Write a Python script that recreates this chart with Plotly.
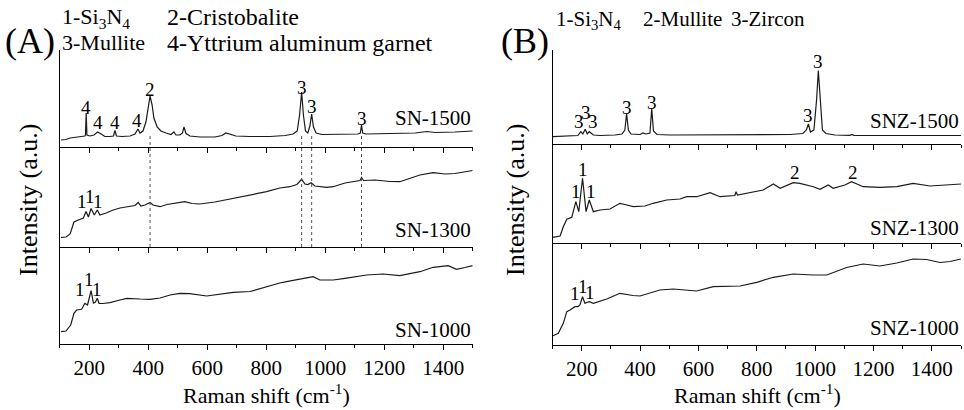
import plotly.graph_objects as go

# ---------------- data (Raman shift in cm-1, intensity in arbitrary units) ----------------
sn1500_x = [104, 121, 135, 155, 175, 185, 187, 189.5, 192, 202, 216, 228, 240, 253, 270, 282, 287, 292,
            311, 338, 355, 365, 372, 382, 392, 399, 406, 413, 419, 430, 443, 460, 477, 487, 494, 507,
            516, 521, 528, 541, 575, 626, 650, 663, 677, 697, 745, 813, 864, 891, 905, 913, 920, 926,
            933, 941, 948, 954, 960, 969, 989, 1050, 1111, 1119, 1123, 1127, 1138, 1219, 1305, 1345,
            1372, 1440, 1500]
sn1500_y = [7, 7.5, 9, 9.5, 10, 11, 12, 34, 12, 11, 12, 15, 13, 10.5, 10.5, 11, 16.5, 11,
            10.5, 11, 13, 18, 14, 16, 25, 39, 51, 42, 29, 20, 16, 14, 12.5, 15, 12, 12,
            14, 20, 13.5, 11, 10, 10, 11.5, 14, 12.5, 11, 10.5, 10.5, 11.5, 13, 16, 32, 55, 32,
            16, 14, 21, 33, 20, 14, 12.5, 12.5, 13, 14, 22, 14, 13, 13.5, 14, 15.5,
            14.5, 15, 16]

sn1300_x = [104, 121, 135, 141, 148, 163, 180, 189, 197, 206, 217, 227, 236, 257, 281, 304, 327, 355,
            366, 375, 389, 406, 416, 440, 463, 501, 524, 548, 575, 626, 688, 745, 801, 846, 880, 904,
            920, 931, 941, 952, 965, 1005, 1027, 1067, 1101, 1118, 1123, 1130, 1169, 1219, 1253, 1287,
            1321, 1366, 1406, 1440, 1474, 1500]
sn1300_y = [9.7, 10, 13, 18, 25, 27, 29, 35.5, 30, 38.5, 32, 37, 32, 34, 37, 39, 40.3, 41.5,
            44.5, 41, 42, 44.5, 42, 40.3, 42.5, 44, 45.3, 43.5, 43, 45, 48.7, 52, 55.3, 59, 60.3, 62.5,
            67.7, 63, 62.5, 64.3, 61, 59.7, 60.3, 64, 66, 66.5, 69.5, 66.5, 67, 65.5, 65.3, 69,
            72, 74.3, 73, 73.5, 75.5, 76.5]

sn1000_x = [104, 121, 137, 143, 148, 157, 174, 185, 194, 199, 206, 214, 221, 227, 233, 246, 270, 304,
            327, 372, 406, 440, 474, 507, 541, 598, 643, 688, 745, 801, 846, 869, 914, 959, 982, 1027,
            1067, 1084, 1140, 1196, 1253, 1321, 1366, 1417, 1445, 1474, 1500]
sn1000_y = [12.3, 13, 19, 26, 30.7, 34, 34.7, 40.7, 39, 45, 53.3, 41, 42, 45.7, 40.7, 40.5, 41.3, 44,
            45.7, 45, 44.7, 46, 49, 50.7, 50.3, 48, 50, 51.7, 52.5, 57.3, 61, 62.3, 64.7, 67.3, 64, 64,
            65.7, 66.5, 69, 70, 68.3, 72.3, 76.7, 78.3, 74.7, 76.5, 78.3]

snz1500_x = [100, 126, 160, 187, 197, 204, 212, 219, 226, 240, 263, 314, 338, 348, 354, 360, 369, 400,
             410, 420, 434, 440, 446, 458, 503, 606, 777, 914, 958, 970, 977, 984, 996, 1005, 1011,
             1017, 1025, 1037, 1068, 1119, 1126, 1133, 1291, 1500]
snz1500_y = [7.3, 7.5, 8, 8.5, 12.3, 10, 14.7, 10, 12.3, 9, 8.5, 9, 10, 14, 30.5, 14, 10, 9.5,
             11, 10, 11, 35.5, 13, 9.5, 9, 9, 9, 9.5, 10.5, 14, 20, 12, 14, 44, 73.5,
             44, 14, 10.5, 9, 8.7, 9.5, 8.7, 8.5, 8.5]

snz1300_x = [100, 126, 137, 149, 166, 180, 190, 203, 215, 226, 240, 263, 297, 331, 355, 377, 417, 445,
             491, 537, 560, 594, 640, 674, 725, 729, 734, 765, 822, 857, 880, 925, 948, 994, 1017, 1045,
             1062, 1102, 1125, 1165, 1222, 1280, 1336, 1394, 1451, 1500]
snz1300_y = [5.7, 7, 16.3, 23.7, 25.7, 41.3, 31.3, 64.7, 31.3, 43, 31.3, 33, 34, 39.7, 38, 36.3, 37, 39.7,
             43, 44, 46.3, 46.3, 50.3, 46.3, 47.5, 51.3, 48, 49.7, 53, 59, 54.7, 60.3, 59.7, 56.3, 53.7, 58,
             54.7, 58, 61.3, 56.3, 55.7, 56.3, 59.7, 57, 58, 59]

snz1000_x = [100, 120, 137, 149, 160, 177, 187, 194, 203, 211, 226, 240, 286, 331, 376, 400, 468, 514,
             594, 651, 743, 800, 857, 925, 994, 1040, 1108, 1165, 1222, 1280, 1336, 1382, 1428, 1462, 1500]
snz1000_y = [9, 11.7, 21.7, 33.3, 35, 38.3, 38.3, 40, 48.3, 41.7, 43.3, 41.7, 46, 51.7, 49.5, 49, 55, 56,
             54, 58.3, 59, 62.7, 67.7, 71, 70, 70, 77.5, 81, 79, 82, 86, 85.5, 82.5, 83.5, 86]

sample_names = ["SN-1500", "SN-1300", "SN-1000", "SNZ-1500", "SNZ-1300", "SNZ-1000"]
x_ticks = [200, 400, 600, 800, 1000, 1200, 1400]

# peak labels: (panel index, text, raman shift, intensity)
peak_labels = [
    (0, "4", 189, 40), (0, "4", 228, 25), (0, "4", 287, 25), (0, "4", 361, 27),
    (0, "2", 406, 58), (0, "3", 920, 60), (0, "3", 954, 41), (0, "3", 1124, 29),
    (1, "1", 174, 45.5), (1, "1", 202, 50.5), (1, "1", 228, 45.5),
    (2, "1", 168, 54.5), (2, "1", 200, 65), (2, "1", 226, 54.5),
    (3, "3", 191, 23), (3, "3", 215, 31.5), (3, "3", 240, 23), (3, "3", 354, 36.5),
    (3, "3", 440, 41.5), (3, "3", 977, 28.2), (3, "3", 1011, 82.5),
    (4, "1", 179, 52), (4, "1", 206, 73.8), (4, "1", 233, 52), (4, "2", 931, 70.5), (4, "2", 1129, 70.5),
    (5, "1", 176, 52), (5, "1", 203, 59), (5, "1", 229, 53),
]
name_label_y = [29, 17, 14.5, 23, 15.5, 17.5]
dotted_shifts = [406, 920, 954, 1123]

series_x = [sn1500_x, sn1300_x, sn1000_x, snz1500_x, snz1300_x, snz1000_x]
series_y = [sn1500_y, sn1300_y, sn1000_y, snz1500_y, snz1300_y, snz1000_y]

# ---------------- layout geometry ----------------
W, H = 964, 410
def py(p):
    return 1 - p / H

x_domains = [[59.8 / W, 472.7 / W]] * 3 + [[552.5 / W, 961 / W]] * 3
y_pix = [(50, 147), (147, 247), (247, 344), (50, 144), (144, 243), (243, 345)]
y_ranges = [97, 100, 97, 94, 99, 102]

FONT = "Times New Roman"
fig = go.Figure()

for i in range(6):
    n = i + 1
    fig.add_trace(go.Scatter(x=series_x[i], y=series_y[i], mode="lines",
                             line=dict(color="#1a1a1a", width=1.2),
                             xaxis=f"x{n}", yaxis=f"y{n}", showlegend=False, hoverinfo="skip"))
    bottom = i in (2, 5)
    fig.update_layout({
        f"xaxis{n}": dict(domain=x_domains[i], anchor=f"y{n}", range=[100, 1500],
                          showline=True, linecolor="black", linewidth=1, showgrid=False, zeroline=False,
                          tickmode="array", tickvals=x_ticks, ticks="outside", ticklen=5, tickwidth=1,
                          tickcolor="black", showticklabels=bottom,
                          tickfont=dict(family=FONT, size=21, color="black"),
                          minor=dict(tickmode="linear", tick0=100, dtick=100, ticks="outside",
                                     ticklen=3, tickwidth=1, tickcolor="black")),
        f"yaxis{n}": dict(domain=[py(y_pix[i][1]), py(y_pix[i][0])], anchor=f"x{n}",
                          range=[0, y_ranges[i]], showline=True, linecolor="black", linewidth=1,
                          showgrid=False, zeroline=False, showticklabels=False, ticks=""),
    })

ann = []
for (p, t, xv, yv) in peak_labels:
    ann.append(dict(x=xv, y=yv, xref=f"x{p+1}", yref=f"y{p+1}", text=t, showarrow=False,
                    font=dict(family=FONT, size=19, color="black"), xanchor="center", yanchor="middle"))
for i, nm in enumerate(sample_names):
    ann.append(dict(x=1500, y=name_label_y[i], xref=f"x{i+1}", yref=f"y{i+1}", text=nm, showarrow=False,
                    font=dict(family=FONT, size=21, color="black"), xanchor="right", yanchor="middle"))

def paper_text(x, y, t, size, xanchor="left", angle=0):
    return dict(x=x / W, y=py(y), xref="paper", yref="paper", text=t, showarrow=False,
                font=dict(family=FONT, size=size, color="black"), xanchor=xanchor, yanchor="middle",
                textangle=angle)

ann += [
    paper_text(3, 41, "(A)", 36),
    paper_text(60, 18, "1-Si<sub>3</sub>N<sub>4</sub>", 22),
    paper_text(165, 17, "2-Cristobalite", 24),
    paper_text(60, 43, "3-Mullite", 22),
    paper_text(165, 43, "4-Yttrium aluminum garnet", 24),
    paper_text(499, 41, "(B)", 36),
    paper_text(554, 20, "1-Si<sub>3</sub>N<sub>4</sub>", 21),
    paper_text(641, 19, "2-Mullite", 21),
    paper_text(729, 19, "3-Zircon", 21),
    paper_text(266, 394, "Raman shift (cm<sup>-1</sup>)", 22, "center"),
    paper_text(757, 394, "Raman shift (cm<sup>-1</sup>)", 22, "center"),
    paper_text(28, 200, "Intensity (a.u.)", 26, "center", -90),
    paper_text(515, 200, "Intensity (a.u.)", 26, "center", -90),
]

shapes = []
for s in dotted_shifts:
    shapes.append(dict(type="line", xref="x1", yref="paper", x0=s, x1=s, y0=py(136), y1=py(247),
                       line=dict(color="#555555", width=1, dash="dot")))

fig.update_layout(width=W, height=H, margin=dict(l=0, r=0, t=0, b=0),
                  paper_bgcolor="white", plot_bgcolor="white",
                  font=dict(family=FONT, color="black"),
                  annotations=ann, shapes=shapes, showlegend=False)

fig.write_html("out.html")
